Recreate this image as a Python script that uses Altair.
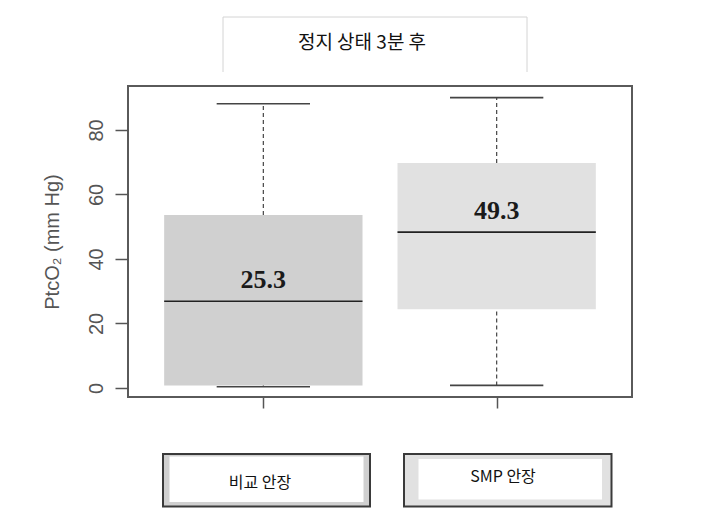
import altair as alt
import pandas as pd

# ---- data ----
groups = ["비교 안장", "SMP 안장"]
mins = [0.4, 0.8]
q1s = [0.8, 24.4]
medians = [26.9, 48.3]
q3s = [53.6, 69.7]
maxs = [88.1, 90.0]
labels = ["25.3", "49.3"]
y_ticks = [0, 20, 40, 60, 80]
title_text = "정지 상태 3분 후"
y_title = "PtcO₂ (mm Hg)"

# ---- styles / layout constants ----
fills = ["#d0d0d0", "#e1e1e1"]
BOX_HALF = 0.425
CAP_HALF = 0.2
W, H = 504, 311

df = pd.DataFrame({
    "group": groups,
    "min": mins,
    "q1": q1s,
    "median": medians,
    "q3": q3s,
    "max": maxs,
    "label": labels,
})
df["pos"] = list(range(1, len(groups) + 1))
df["bx1"] = df["pos"] - BOX_HALF
df["bx2"] = df["pos"] + BOX_HALF
df["cx1"] = df["pos"] - CAP_HALF
df["cx2"] = df["pos"] + CAP_HALF

xs = alt.Scale(domain=[0.42, 2.58], nice=False, zero=False)
ys = alt.Scale(domain=[-2.8, 93.6], nice=False, zero=False)

xaxis = alt.Axis(values=[1, 2], labels=False, tickSize=11, tickColor="#555555",
                 tickWidth=1.5, domain=False, grid=False, title=None)
yaxis = alt.Axis(values=y_ticks, tickSize=13, tickColor="#555555", tickWidth=1.5,
                 domain=False, grid=False, labelAngle=270, labelAlign="center",
                 labelBaseline="alphabetic", labelPadding=13, labelFontSize=20,
                 labelColor="#555555", labelFont="Liberation Sans", labelOverlap=False,
                 title=y_title, titleAngle=270, titleX=-76, titleY=H / 2,
                 titleAlign="center", titleBaseline="middle", titleFontSize=20,
                 titleFontWeight="normal", titleColor="#555555",
                 titleFont="Liberation Sans")

color = alt.Color("group:N", scale=alt.Scale(domain=groups, range=fills), legend=None)

base = alt.Chart(df)

boxes = base.mark_rect(strokeWidth=0).encode(
    x=alt.X("bx1:Q", scale=xs, axis=xaxis), x2="bx2:Q",
    y=alt.Y("q1:Q", scale=ys, axis=yaxis), y2="q3:Q",
    fill=color,
)
wh_up = base.mark_rule(color="#444444", strokeWidth=1.2, strokeDash=[4, 3]).encode(
    x=alt.X("pos:Q", scale=xs, axis=xaxis),
    y=alt.Y("q3:Q", scale=ys, axis=yaxis), y2="max:Q",
)
wh_lo = base.mark_rule(color="#444444", strokeWidth=1.2, strokeDash=[4, 3]).encode(
    x=alt.X("pos:Q", scale=xs, axis=xaxis),
    y=alt.Y("min:Q", scale=ys, axis=yaxis), y2="q1:Q",
)
cap_up = base.mark_rule(color="#444444", strokeWidth=1.6).encode(
    x=alt.X("cx1:Q", scale=xs, axis=xaxis), x2="cx2:Q",
    y=alt.Y("max:Q", scale=ys, axis=yaxis),
)
cap_lo = base.mark_rule(color="#444444", strokeWidth=1.6).encode(
    x=alt.X("cx1:Q", scale=xs, axis=xaxis), x2="cx2:Q",
    y=alt.Y("min:Q", scale=ys, axis=yaxis),
)
med = base.mark_rule(color="#222222", strokeWidth=1.6).encode(
    x=alt.X("bx1:Q", scale=xs, axis=xaxis), x2="bx2:Q",
    y=alt.Y("median:Q", scale=ys, axis=yaxis),
)
txt = base.mark_text(font="Liberation Serif", fontWeight="bold", fontSize=26,
                     color="#1a1a1a", baseline="middle", dy=-21).encode(
    x=alt.X("pos:Q", scale=xs, axis=xaxis),
    y=alt.Y("median:Q", scale=ys, axis=yaxis),
    text="label:N",
)

one = alt.Chart(pd.DataFrame({"t": [title_text]}))
tb_col = "#d4d4d4"
tb_top = one.mark_rule(color=tb_col, strokeWidth=1).encode(
    x=alt.value(95), x2=alt.value(399), y=alt.value(-69))
tb_left = one.mark_rule(color=tb_col, strokeWidth=1).encode(
    x=alt.value(95), y=alt.value(-69), y2=alt.value(-14))
tb_right = one.mark_rule(color=tb_col, strokeWidth=1).encode(
    x=alt.value(399), y=alt.value(-69), y2=alt.value(-14))
tb_text = one.mark_text(font="Noto Sans CJK KR", fontSize=19, color="#111111",
                        baseline="middle", align="center").encode(
    x=alt.value(234), y=alt.value(-43), text="t:N")

def legend_box(i, outer, inner, tpos):
    sub = base.transform_filter(alt.datum.group == groups[i])
    o = sub.mark_rect(fill=fills[i], stroke="#3a3a3a", strokeWidth=2).encode(
        x=alt.value(outer[0]), x2=alt.value(outer[1]),
        y=alt.value(outer[2]), y2=alt.value(outer[3]))
    w = sub.mark_rect(fill="white", strokeWidth=0).encode(
        x=alt.value(inner[0]), x2=alt.value(inner[1]),
        y=alt.value(inner[2]), y2=alt.value(inner[3]))
    t = sub.mark_text(font="Noto Sans CJK KR", fontSize=16, color="#111111",
                      baseline="middle", align="center").encode(
        x=alt.value(tpos[0]), y=alt.value(tpos[1]), text="group:N")
    return [o, w, t]

leg = (legend_box(0, (35, 242, 368, 420.5), (41.5, 235.5, 370.5, 416), (132, 397))
       + legend_box(1, (276, 483.5, 368, 420.5), (290.5, 474, 373, 413.5), (375, 391)))

chart = alt.layer(
    boxes, wh_up, wh_lo, cap_up, cap_lo, med, txt,
    tb_top, tb_left, tb_right, tb_text, *leg
).properties(
    width=W, height=H,
    padding={"left": 120, "top": 78, "right": 60, "bottom": 120},
    autosize=alt.AutoSizeParams(type="none"),
    background="white",
).configure_view(
    stroke="#5a5a5a", strokeWidth=2
)

chart.save("out.html", embed_options={"renderer": "svg", "actions": False})
